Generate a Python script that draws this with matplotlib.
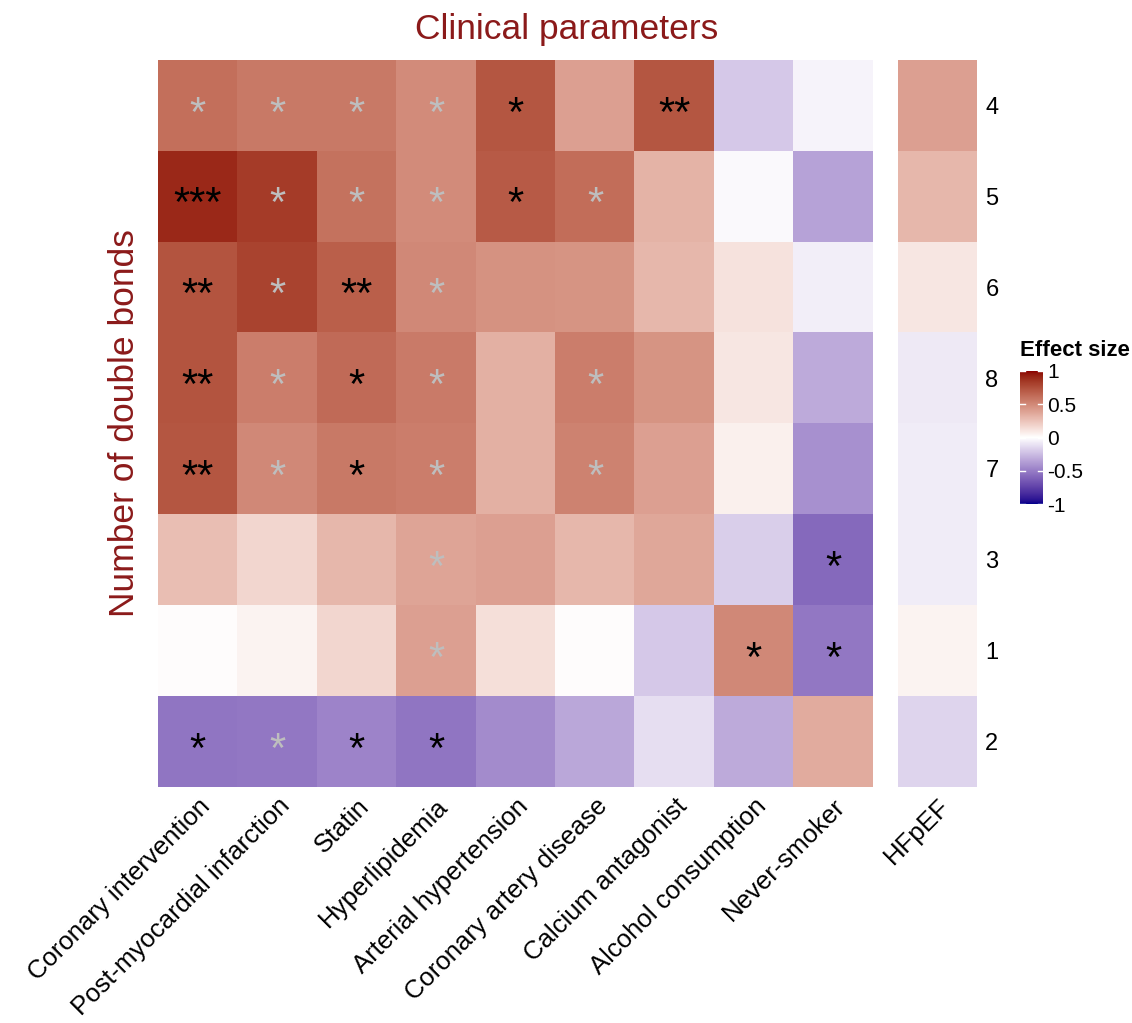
import numpy as np
import matplotlib
matplotlib.use("Agg")
import matplotlib.pyplot as plt
from matplotlib.colors import ListedColormap, to_rgb

plt.rcParams['font.family'] = ['Liberation Sans', 'DejaVu Sans']

columns = ["Coronary intervention", "Post-myocardial infarction", "Statin",
           "Hyperlipidemia", "Arterial hypertension", "Coronary artery disease",
           "Calcium antagonist", "Alcohol consumption", "Never-smoker"]
rows = ["4", "5", "6", "8", "7", "3", "1", "2"]

effect = np.array([
    [0.61, 0.57, 0.57, 0.49, 0.72, 0.40, 0.72, -0.20, -0.04],
    [0.90, 0.83, 0.60, 0.49, 0.70, 0.62, 0.32, -0.02, -0.35],
    [0.73, 0.80, 0.68, 0.50, 0.46, 0.45, 0.30, 0.12, -0.06],
    [0.73, 0.55, 0.63, 0.56, 0.33, 0.55, 0.45, 0.10, -0.32],
    [0.72, 0.50, 0.57, 0.55, 0.33, 0.53, 0.40, 0.06, -0.42],
    [0.27, 0.17, 0.30, 0.38, 0.40, 0.30, 0.37, -0.18, -0.58],
    [0.01, 0.05, 0.17, 0.40, 0.13, 0.01, -0.20, 0.50, -0.52],
    [-0.53, -0.52, -0.47, -0.53, -0.44, -0.33, -0.12, -0.32, 0.35],
])
hfpef = np.array([0.40, 0.30, 0.10, -0.08, -0.07, -0.07, 0.05, -0.16])

stars = [
    ["*", "*", "*", "*", "*", "", "**", "", ""],
    ["***", "*", "*", "*", "*", "*", "", "", ""],
    ["**", "*", "**", "*", "", "", "", "", ""],
    ["**", "*", "*", "*", "", "*", "", "", ""],
    ["**", "*", "*", "*", "", "*", "", "", ""],
    ["", "", "", "*", "", "", "", "", "*"],
    ["", "", "", "*", "", "", "", "*", "*"],
    ["*", "*", "*", "*", "", "", "", "", ""],
]
# 1 = black, 0 = grey
star_black = [
    [0, 0, 0, 0, 1, 0, 1, 0, 0],
    [1, 0, 0, 0, 1, 0, 0, 0, 0],
    [1, 0, 1, 0, 0, 0, 0, 0, 0],
    [1, 0, 1, 0, 0, 0, 0, 0, 0],
    [1, 0, 1, 0, 0, 0, 0, 0, 0],
    [0, 0, 0, 0, 0, 0, 0, 0, 1],
    [0, 0, 0, 0, 0, 0, 0, 1, 1],
    [1, 0, 1, 1, 0, 0, 0, 0, 0],
]

# ---- Lab interpolated diverging palette (like ggplot gradient2) ----
def srgb_to_lab(c):
    c = np.asarray(c, float)
    lin = np.where(c <= 0.04045, c / 12.92, ((c + 0.055) / 1.055) ** 2.4)
    M = np.array([[0.4124, 0.3576, 0.1805],
                  [0.2126, 0.7152, 0.0722],
                  [0.0193, 0.1192, 0.9505]])
    xyz = M @ lin
    xyz = xyz / np.array([0.95047, 1.0, 1.08883])
    f = np.where(xyz > 0.008856, np.cbrt(xyz), 7.787 * xyz + 16 / 116)
    return np.array([116 * f[1] - 16, 500 * (f[0] - f[1]), 200 * (f[1] - f[2])])

def lab_to_srgb(lab):
    L, a, b = lab
    fy = (L + 16) / 116
    fx = fy + a / 500
    fz = fy - b / 200
    f = np.array([fx, fy, fz])
    xyz = np.where(f ** 3 > 0.008856, f ** 3, (f - 16 / 116) / 7.787)
    xyz = xyz * np.array([0.95047, 1.0, 1.08883])
    Minv = np.array([[3.2406, -1.5372, -0.4986],
                     [-0.9689, 1.8758, 0.0415],
                     [0.0557, -0.2040, 1.0570]])
    lin = Minv @ xyz
    lin = np.clip(lin, 0, 1)
    c = np.where(lin <= 0.0031308, 12.92 * lin, 1.055 * lin ** (1 / 2.4) - 0.055)
    return np.clip(c, 0, 1)

low = srgb_to_lab(to_rgb("#00008B"))
mid = srgb_to_lab(to_rgb("#FFFFFF"))
high = srgb_to_lab(to_rgb("#8B0000"))
cols = []
for t in np.linspace(-1, 1, 512):
    if t < 0:
        lab = mid + (low - mid) * (-t)
    else:
        lab = mid + (high - mid) * t
    cols.append(lab_to_srgb(lab))
cmap = ListedColormap(cols)

fig = plt.figure(figsize=(11.32, 10.23), dpi=100)
ax = fig.add_axes([158 / 1132, 1 - 787 / 1023, 715 / 1132, 727 / 1023])
ax2 = fig.add_axes([898 / 1132, 1 - 787 / 1023, 79 / 1132, 727 / 1023])

im = ax.imshow(effect, cmap=cmap, vmin=-1, vmax=1, aspect="auto")
ax2.imshow(hfpef.reshape(-1, 1), cmap=cmap, vmin=-1, vmax=1, aspect="auto")

for i in range(len(rows)):
    for j in range(len(columns)):
        s = stars[i][j]
        if s:
            ax.text(j, i + 0.1, s, ha="center", va="center", fontsize=30,
                    color="black" if star_black[i][j] else "#BEBEBE",
                    family="Liberation Sans")

for a in (ax, ax2):
    for sp in a.spines.values():
        sp.set_visible(False)
    a.tick_params(length=0)

lab_fs = 18.5
ax.set_xticks(range(len(columns)))
ax.set_xticklabels(columns, rotation=45, ha="right", va="top",
                   rotation_mode="anchor", fontsize=lab_fs)
ax.set_yticks([])
ax.tick_params(axis="x", pad=5)

ax2.set_xticks([0])
ax2.set_xticklabels(["HFpEF"], rotation=45, ha="right", va="top",
                    rotation_mode="anchor", fontsize=lab_fs)
ax2.yaxis.tick_right()
ax2.set_yticks(range(len(rows)))
ax2.set_yticklabels(rows, fontsize=17)
ax2.tick_params(axis="y", pad=6)
ax2.tick_params(axis="x", pad=5)

fig.text(567 / 1132, 1 - 30 / 1023, "Clinical parameters", color="#8B1A1A",
         fontsize=25.5, ha="center", va="center")
ax.set_ylabel("Number of double bonds", color="#8B1A1A", fontsize=25.5, labelpad=12)

cax = fig.add_axes([1020 / 1132, 1 - 504 / 1023, 23 / 1132, 133 / 1023])
cb = fig.colorbar(im, cax=cax, ticks=[-1, -0.5, 0, 0.5, 1])
cb.outline.set_visible(False)
cb.ax.set_yticklabels(["-1", "-0.5", "0", "0.5", "1"], fontsize=15)
cb.ax.tick_params(length=0, pad=3)
for v in [-1, -0.5, 0, 0.5, 1]:
    cax.plot([0, 0.2], [v, v], color="white", lw=1)
    cax.plot([0.8, 1.0], [v, v], color="white", lw=1)
cax.set_xlim(0, 1)
fig.text(1020 / 1132, 1 - 351 / 1023, "Effect size", fontsize=16,
         fontweight="bold", ha="left", va="center")

fig.savefig("out.png", dpi=100)
